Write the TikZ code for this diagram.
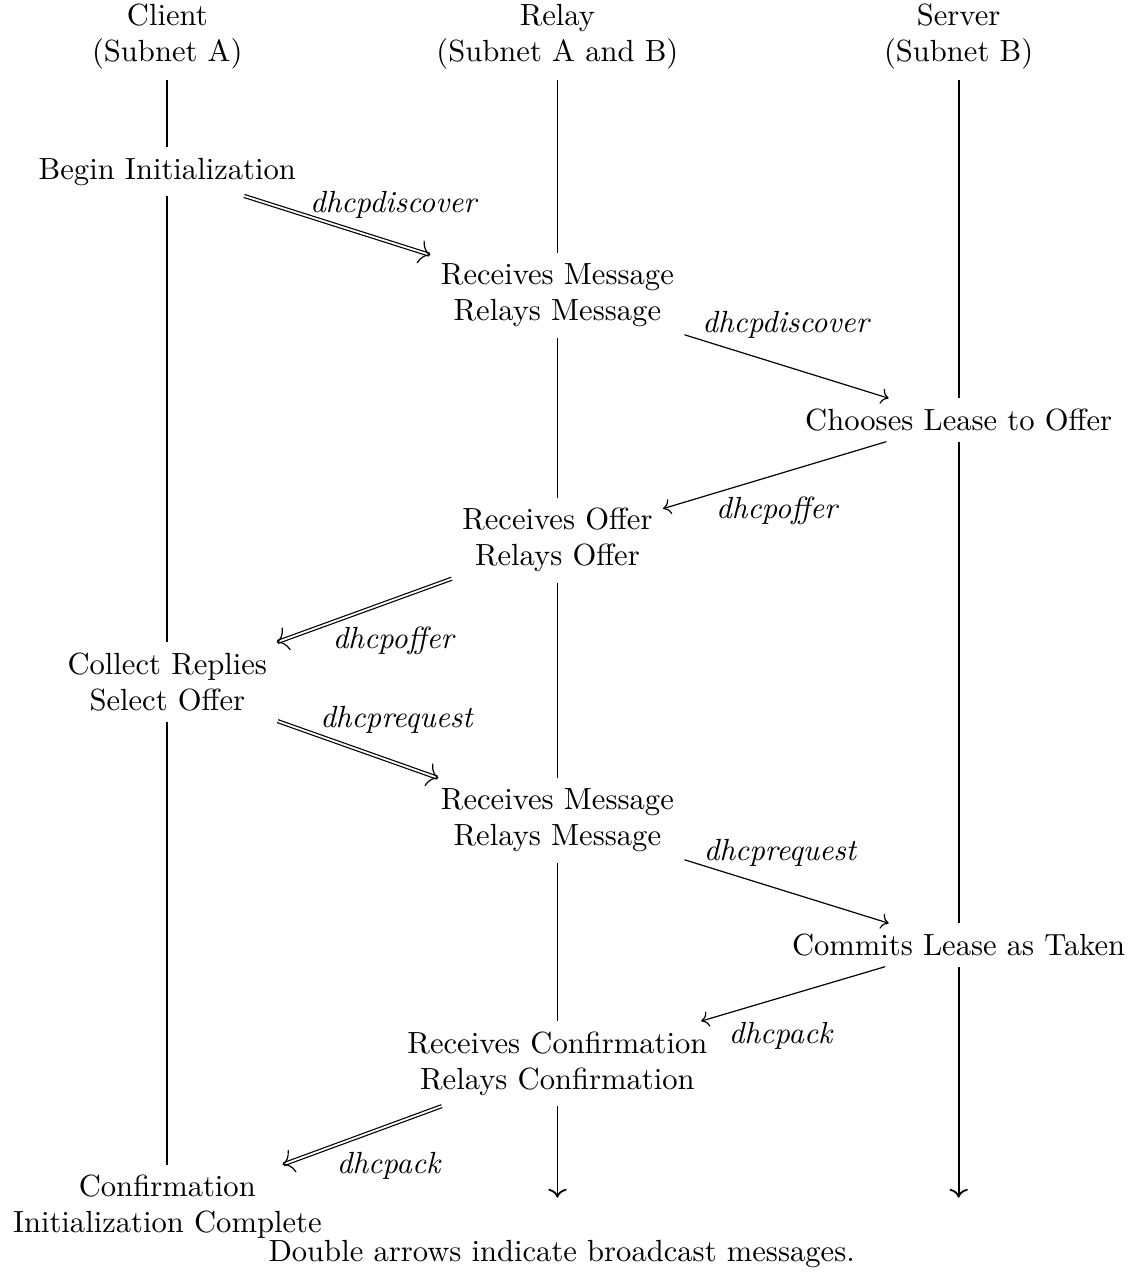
\documentclass[tikz,border=0pt]{standalone}
\usepackage{amsmath}
\usepackage{tikz}
\usetikzlibrary{arrows.meta}
\begin{document}
\begin{tikzpicture}[font=\fontsize{10.2pt}{12pt}\selectfont]
\tikzstyle{every node}=[align=center]
\tikzstyle{msg}=[->]
\tikzstyle{bcast}=[double,-{To[line width=0.4pt,width=8pt,length=3.6pt]}]
\tikzstyle{life}=[semithick]
\useasboundingbox (0,0) rectangle (13.343,-14.995);
\node (client) at (1.96,-0.43) {Client\\(Subnet A)};
\node (relay) at (6.53,-0.43) {Relay\\(Subnet A and B)};
\node (server) at (11.23,-0.43) {Server\\(Subnet B)};
\node (begin) at (1.96,-2.01) {Begin Initialization};
\node (recv1) at (6.53,-3.46) {Receives Message\\Relays Message};
\node (choose) at (11.23,-4.92) {Chooses Lease to Offer};
\node (recvoffer) at (6.53,-6.33) {Receives Offer\\Relays Offer};
\node (collect) at (1.96,-7.99) {Collect Replies\\Select Offer};
\node (recv2) at (6.53,-9.61) {Receives Message\\Relays Message};
\node (commit) at (11.23,-11.07) {Commits Lease as Taken};
\node (recvconf) at (6.53,-12.46) {Receives Confirmation\\Relays Confirmation};
\node (done) at (1.96,-14.14) {Confirmation\\Initialization Complete};
\node (note) at (6.58,-14.69) {Double arrows indicate broadcast messages.};
\coordinate (relayend) at (6.53,-14.03);
\coordinate (serverend) at (11.23,-14.03);

\draw[life] (client) -- (begin) -- (collect) -- (done);
\draw[life,->] (relay) -- (recv1) -- (recvoffer) -- (recv2) -- (recvconf) -- (relayend);
\draw[life,->] (server) -- (choose) -- (commit) -- (serverend);

\draw[bcast] (begin) -- node[xshift=19pt,yshift=7pt] (l1) {\textit{dhcpdiscover}} (recv1);
\draw[msg] (recv1) -- node[yshift=14pt] (l2) {\textit{dhcpdiscover}} (choose);
\draw[msg] (choose) -- node[xshift=1pt,yshift=-12pt] (l3) {\textit{dhcpoffer}} (recvoffer);
\draw[bcast] (recvoffer) -- node[xshift=10pt,yshift=-10pt] (l4) {\textit{dhcpoffer}} (collect);
\draw[bcast] (collect) -- node[xshift=13pt,yshift=10pt] (l5) {\textit{dhcprequest}} (recv2);
\draw[msg] (recv2) -- node[xshift=-2pt,yshift=13pt] (l6) {\textit{dhcprequest}} (commit);
\draw[msg] (commit) -- node[xshift=-4pt,yshift=-14pt] (l7) {\textit{dhcpack}} (recvconf);
\draw[bcast] (recvconf) -- node[xshift=9pt,yshift=-10pt] (l8) {\textit{dhcpack}} (done);
\end{tikzpicture}
\end{document}
